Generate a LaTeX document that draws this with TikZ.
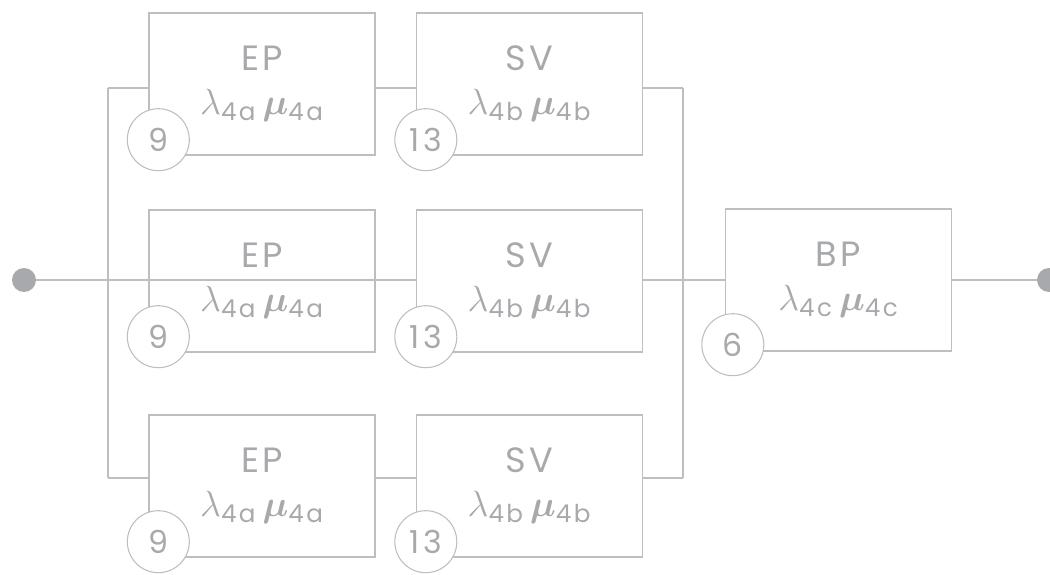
\documentclass[tikz,border=0pt]{standalone}
\usepackage{amsmath,bm}
\usepackage{fontspec}
\setmainfont{Poppins}[LetterSpace=10]
\usetikzlibrary{positioning,calc}

\definecolor{linegray}{HTML}{BCBEC0}
\definecolor{textgray}{HTML}{A7A9AC}

\newcommand{\rates}[1]{$\lambda_{\text{#1}}\,\bm{\mu}_{\text{#1}}$}

\tikzset{
    block/.style={draw=linegray, line width=0.8pt, minimum width=4.52cm, minimum height=2.84cm,
        align=center, text=textgray, font=\fontsize{20}{25}\selectfont},
    tag/.style={circle, draw=linegray, fill=white, line width=0.6pt, minimum size=1.24cm,
        inner sep=0pt, text=textgray, font=\fontsize{18}{18}\selectfont},
    wire/.style={draw=linegray, line width=0.8pt},
    term/.style={circle, fill=textgray, minimum size=0.48cm, inner sep=0pt}
}

\begin{document}
\begin{tikzpicture}[x=0.02cm, y=-0.02cm]
    \useasboundingbox (0,0) rectangle (1050,574);

    % the three parallel branches
    \foreach \r/\y/\w in {1/84/88, 2/281/280, 3/486/478} {
        \node[block] (ep\r) at (262,\y) {EP\\\rates{4a}};
        \node[block] (sv\r) at (529.5,\y) {SV\\\rates{4b}};
        \coordinate (jl\r) at (108,\w);
        \coordinate (jr\r) at (683,\w);
    }
    \node[block] (bp) at (838.5,280) {BP\\\rates{4c}};

    \node[term] (inp) at (24,280) {};
    \node[term] (outp) at (1049,280) {};

    % wiring
    \draw[wire] (jl1) -- (jl3);
    \draw[wire] (jr1) -- (jr3);
    \foreach \r in {1,3} {
        \draw[wire] (jl\r) -- (jl\r -| ep\r.west);
        \draw[wire] (jl\r -| ep\r.east) -- (jl\r -| sv\r.west);
        \draw[wire] (jr\r -| sv\r.east) -- (jr\r);
    }
    \draw[wire] (inp) -- (inp -| sv2.west);
    \draw[wire] (jr2 -| sv2.east) -- (jr2) -- (bp.west);
    \draw[wire] (bp.east) -- (outp);

    % numbered tags
    \foreach \r in {1,2,3} {
        \node[tag, xshift=0.2cm, yshift=0.32cm] (ta\r) at (ep\r.south west) {9};
        \node[tag, xshift=0.2cm, yshift=0.32cm] (tb\r) at (sv\r.south west) {13};
    }
    \node[tag, xshift=0.16cm, yshift=0.14cm] (tc) at (bp.south west) {6};
\end{tikzpicture}
\end{document}
